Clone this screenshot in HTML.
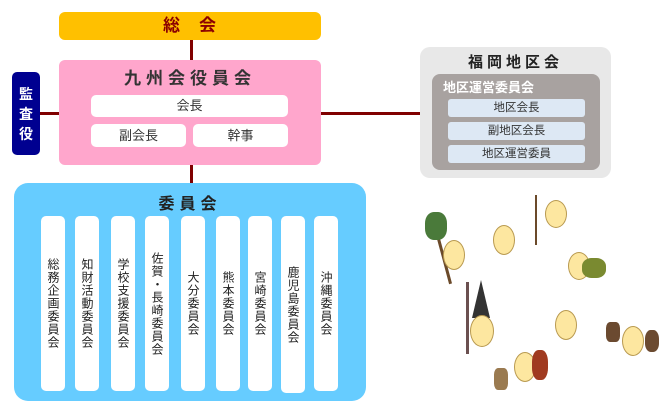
<!DOCTYPE html>
<html><head><meta charset="utf-8"><style>
body{margin:0;width:669px;height:407px;background:#fff;position:relative;overflow:hidden;font-family:"Liberation Sans","Noto Sans CJK JP",sans-serif;}
div{position:absolute;box-sizing:border-box;}
.ln{background:#800000;}
.w{background:#fff;border-radius:5px;color:#333;font-size:13px;text-align:center;}
.col{background:#fff;border-radius:5px;top:216px;height:175px;width:24px;writing-mode:vertical-rl;font-size:12px;color:#222;display:flex;align-items:center;justify-content:center;line-height:24px;letter-spacing:1px;}
.lb{background:#dde8f4;border-radius:3px;left:448px;width:137px;height:18px;font-size:11.5px;color:#333;text-align:center;line-height:18px;}
.m{background:#fde7a0;border-radius:50%;border:1px solid #b99a50;}
</style></head><body>
<div class="ln" style="left:190px;top:40px;width:3px;height:20px"></div>
<div class="ln" style="left:190px;top:165px;width:3px;height:19px"></div>
<div class="ln" style="left:40px;top:112px;width:19px;height:3px"></div>
<div class="ln" style="left:321px;top:112px;width:99px;height:3px"></div>

<div style="left:59px;top:12px;width:262px;height:28px;background:#ffc000;border-radius:6px;color:#8b0000;font-size:17px;font-weight:bold;text-align:center;line-height:28px;letter-spacing:1px">総　会</div>

<div style="left:59px;top:60px;width:262px;height:105px;background:#ffa6cc;border-radius:6px"></div>
<div style="left:59px;top:64px;width:262px;text-align:center;font-size:17px;font-weight:bold;color:#333;letter-spacing:5px">九州会役員会</div>
<div class="w" style="left:91px;top:95px;width:197px;height:22px;line-height:22px">会長</div>
<div class="w" style="left:91px;top:124px;width:95px;height:23px;line-height:23px">副会長</div>
<div class="w" style="left:193px;top:124px;width:95px;height:23px;line-height:23px">幹事</div>

<div style="left:12px;top:72px;width:28px;height:83px;background:#000090;border-radius:5px;color:#fff;font-size:14px;font-weight:bold;text-align:center;line-height:20px;padding-top:12px">監<br>査<br>役</div>

<div style="left:14px;top:183px;width:352px;height:218px;background:#66ccff;border-radius:14px"></div>
<div style="left:14px;top:190px;width:352px;text-align:center;font-size:16px;font-weight:bold;color:#222;letter-spacing:5px">委員会</div>
<div class="col" style="left:41px">総務企画委員会</div>
<div class="col" style="left:75px">知財活動委員会</div>
<div class="col" style="left:111px">学校支援委員会</div>
<div class="col" style="left:145px">佐賀・長崎委員会</div>
<div class="col" style="left:181px">大分委員会</div>
<div class="col" style="left:216px">熊本委員会</div>
<div class="col" style="left:248px">宮崎委員会</div>
<div class="col" style="left:281px;height:177px">鹿児島委員会</div>
<div class="col" style="left:314px">沖縄委員会</div>

<div style="left:420px;top:47px;width:191px;height:131px;background:#e8e8e8;border-radius:10px"></div>
<div style="left:420px;top:51px;width:191px;text-align:center;font-size:15px;font-weight:bold;color:#222;letter-spacing:4px">福岡地区会</div>
<div style="left:432px;top:74px;width:168px;height:96px;background:#a8a2a0;border-radius:8px"></div>
<div style="left:443px;top:77px;font-size:13px;font-weight:bold;color:#fff">地区運営委員会</div>
<div class="lb" style="top:99px">地区会長</div>
<div class="lb" style="top:122px">副地区会長</div>
<div class="lb" style="top:145px">地区運営委員</div>

<div style="left:440px;top:215px;width:3px;height:70px;background:#6b4a2a;transform:rotate(-15deg)"></div>
<div style="left:466px;top:282px;width:3px;height:72px;background:#6b5050"></div>
<div style="left:535px;top:195px;width:2px;height:50px;background:#6b4a2a"></div>
<div style="left:425px;top:212px;width:22px;height:28px;background:#4a7a3a;border-radius:40%"></div>
<div style="left:472px;top:280px;width:18px;height:38px;background:#333;clip-path:polygon(50% 0,100% 100%,0 100%)"></div>
<div class="m" style="left:443px;top:240px;width:22px;height:30px"></div>
<div class="m" style="left:493px;top:225px;width:22px;height:30px"></div>
<div class="m" style="left:545px;top:200px;width:22px;height:28px"></div>
<div class="m" style="left:568px;top:252px;width:22px;height:28px"></div>
<div class="m" style="left:470px;top:315px;width:24px;height:32px"></div>
<div class="m" style="left:555px;top:310px;width:22px;height:30px"></div>
<div class="m" style="left:514px;top:352px;width:22px;height:30px"></div>
<div class="m" style="left:622px;top:326px;width:22px;height:30px"></div>
<div style="left:582px;top:258px;width:24px;height:20px;background:#7a8a30;border-radius:40%"></div>
<div style="left:532px;top:350px;width:16px;height:30px;background:#a03a20;border-radius:40%"></div>
<div style="left:494px;top:368px;width:14px;height:22px;background:#9a7a50;border-radius:30%"></div>
<div style="left:606px;top:322px;width:14px;height:20px;background:#6b4a30;border-radius:30%"></div>
<div style="left:645px;top:330px;width:14px;height:22px;background:#6b4a30;border-radius:40%"></div>
</body></html>
